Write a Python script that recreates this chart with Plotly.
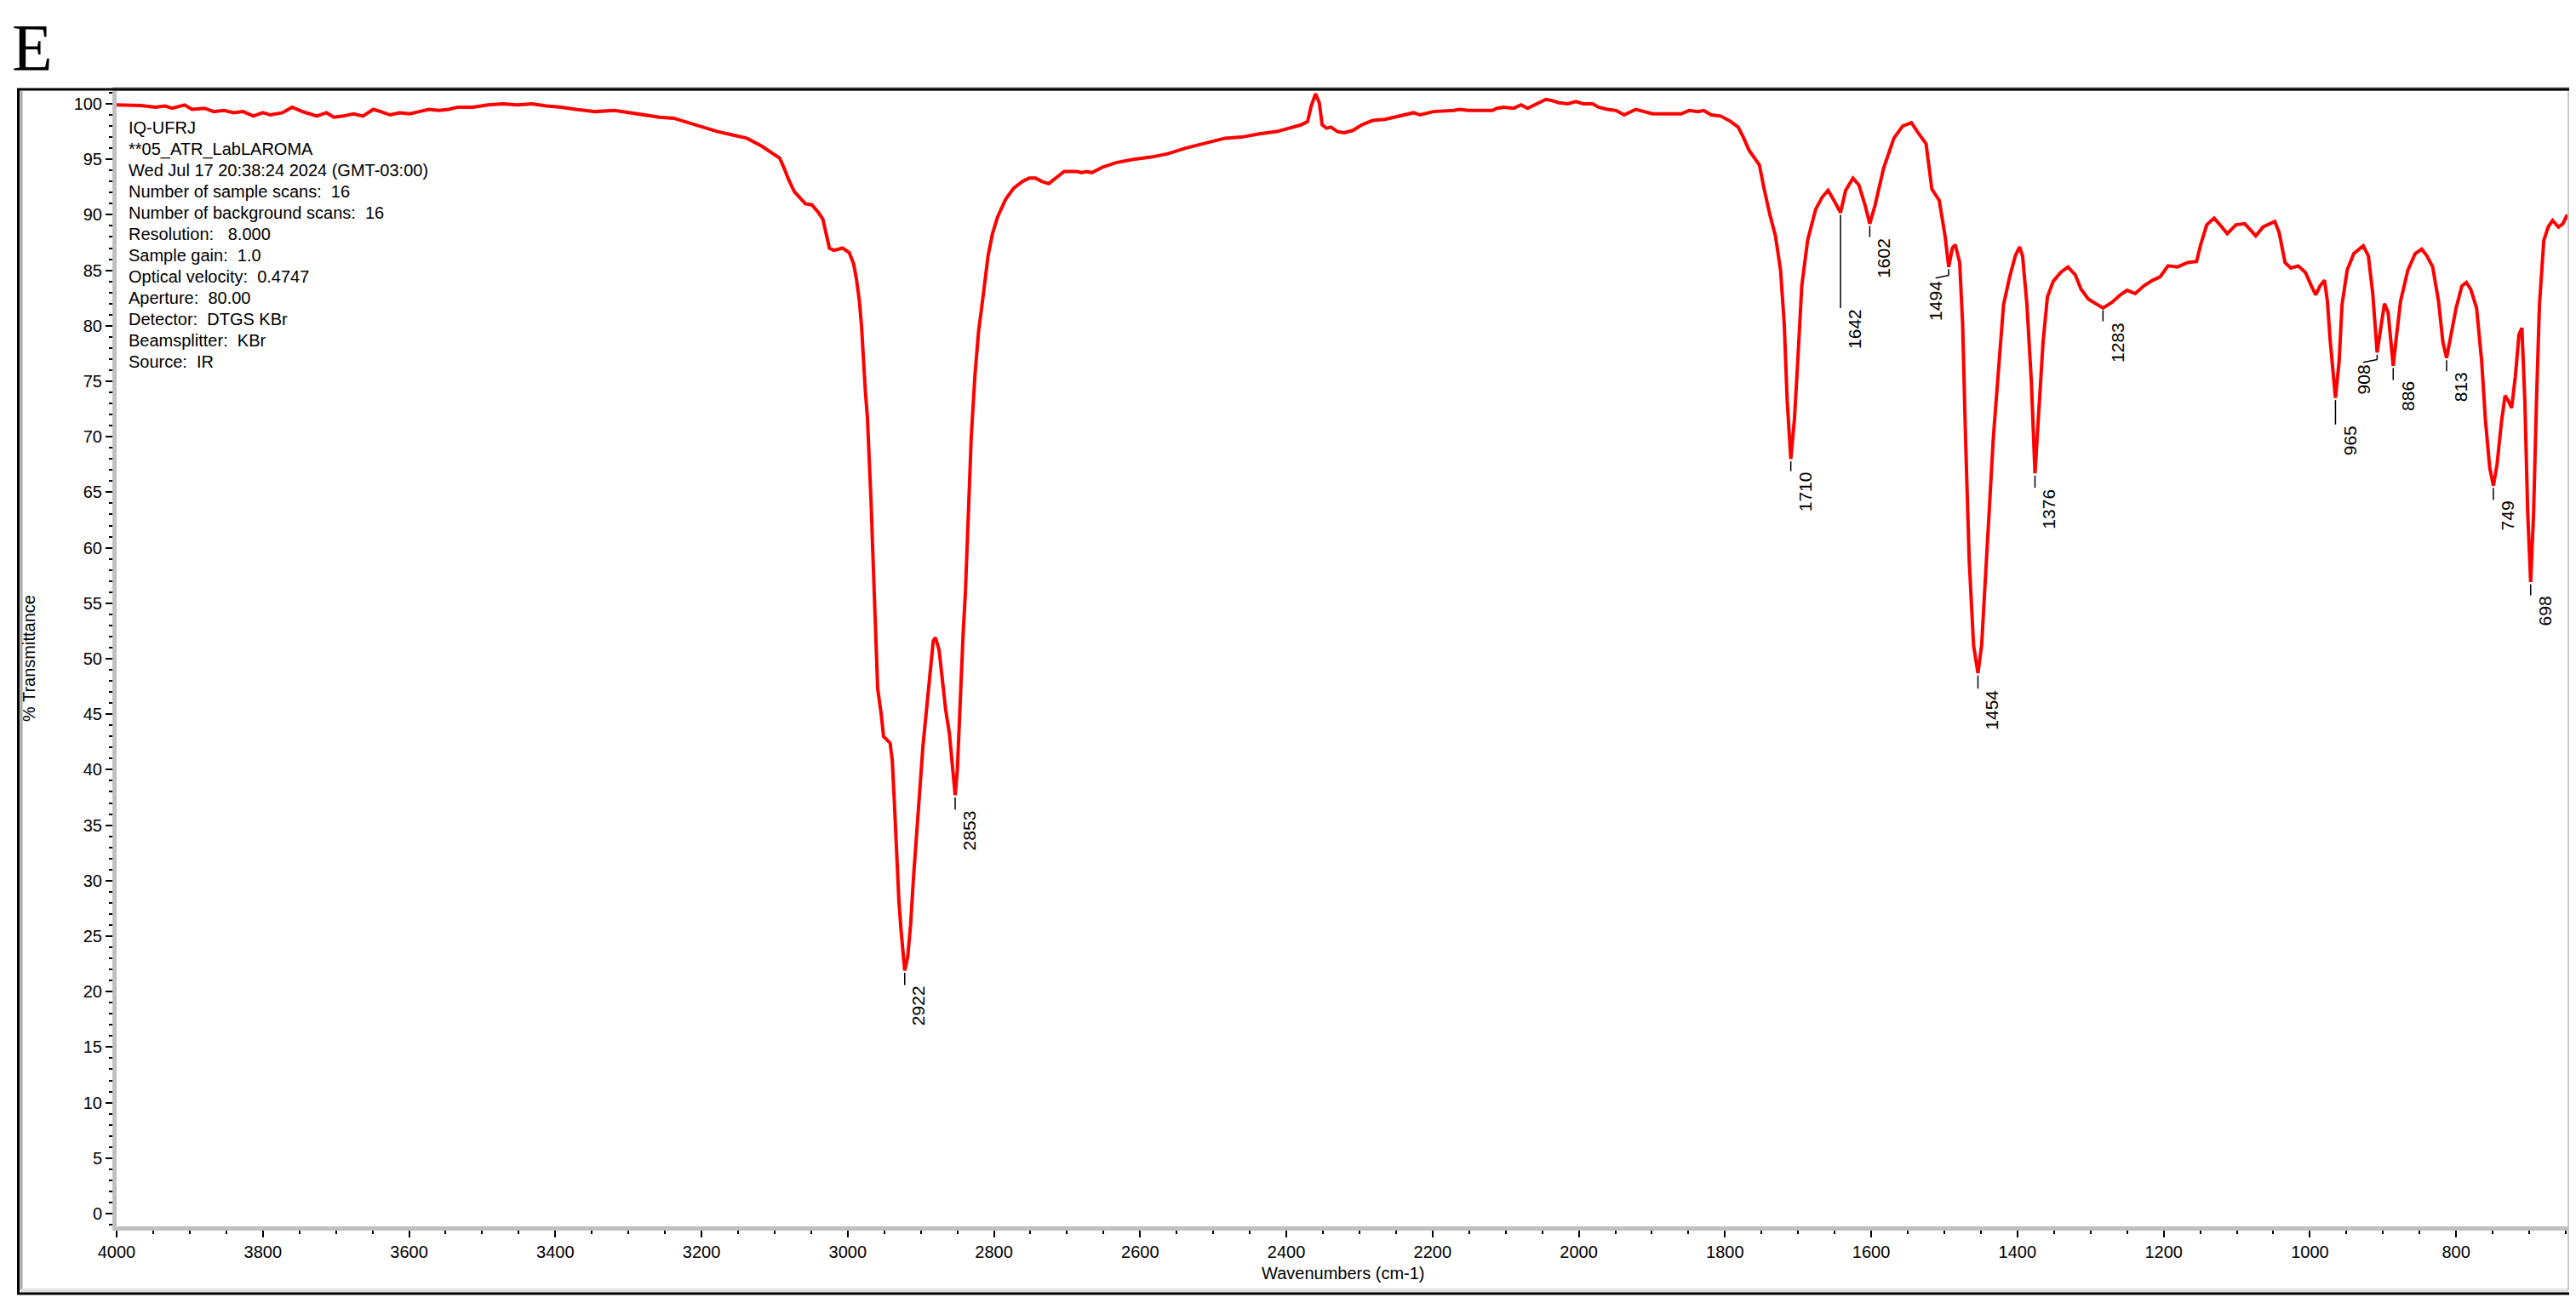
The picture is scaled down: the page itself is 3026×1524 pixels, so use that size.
import plotly.graph_objects as go

# ---------------- data ----------------
wavenumber = [
    4000, 3997, 3967, 3947, 3934, 3924, 3907, 3897, 3880, 3867, 3853, 3840, 3827, 3813, 3800, 3790,
    3773, 3760, 3746, 3736, 3726, 3713, 3703, 3690, 3676, 3663, 3649, 3639, 3626, 3613, 3599, 3586,
    3573, 3559, 3546, 3533, 3513, 3492, 3472, 3452, 3432, 3412, 3392, 3372, 3345, 3319, 3299, 3279,
    3258, 3238, 3218, 3198, 3178, 3158, 3138, 3118, 3101, 3093, 3087, 3081, 3073, 3064, 3058, 3049,
    3040, 3034, 3030, 3025, 3019, 3007, 2998, 2992, 2988, 2984, 2981, 2979, 2976, 2973, 2970, 2968,
    2966, 2964, 2962, 2959, 2954, 2951, 2942, 2939, 2936, 2933, 2930, 2927, 2924, 2922, 2918, 2914,
    2910, 2906, 2902, 2897, 2892, 2887, 2883, 2880, 2875, 2870, 2866, 2861, 2856, 2853, 2850, 2847,
    2845, 2842, 2839, 2835, 2831, 2826, 2821, 2817, 2813, 2808, 2802, 2795, 2784, 2773, 2761, 2752,
    2743, 2734, 2725, 2716, 2704, 2686, 2680, 2674, 2666, 2651, 2633, 2609, 2585, 2562, 2538, 2508,
    2484, 2461, 2437, 2413, 2395, 2380, 2371, 2366, 2360, 2355, 2351, 2345, 2339, 2330, 2321, 2309,
    2297, 2282, 2265, 2247, 2226, 2217, 2199, 2171, 2163, 2151, 2136, 2118, 2112, 2103, 2089, 2079,
    2070, 2060, 2050, 2045, 2037, 2027, 2015, 2004, 1994, 1981, 1973, 1961, 1949, 1938, 1922, 1911,
    1899, 1883, 1860, 1849, 1837, 1829, 1819, 1806, 1792, 1782, 1775, 1767, 1760, 1753, 1747, 1739,
    1731, 1724, 1719, 1715, 1710, 1705, 1700, 1695, 1687, 1676, 1667, 1659, 1651, 1642, 1635, 1625,
    1617, 1609, 1602, 1595, 1583, 1569, 1557, 1545, 1537, 1525, 1517, 1507, 1499, 1494, 1489, 1485,
    1479, 1475, 1471, 1466, 1460, 1454, 1449, 1441, 1433, 1425, 1419, 1411, 1403, 1397, 1393, 1387,
    1381, 1376, 1371, 1365, 1359, 1351, 1341, 1331, 1321, 1313, 1303, 1291, 1283, 1271, 1259, 1250,
    1239, 1227, 1215, 1205, 1194, 1181, 1167, 1155, 1149, 1141, 1131, 1123, 1113, 1101, 1089, 1074,
    1064, 1048, 1042, 1034, 1026, 1016, 1006, 998, 992, 986, 980, 976, 972, 965, 960, 956,
    949, 940, 927, 920, 914, 908, 904, 898, 893, 889, 886, 882, 876, 866, 856, 847,
    840, 832, 824, 818, 813, 808, 800, 792, 786, 780, 772, 765, 760, 754, 749, 744,
    738, 733, 729, 724, 719, 714, 710, 706, 702, 698, 694, 690, 686, 680, 674, 668,
    660, 654, 648,
]
transmittance = [
    99.9, 99.9, 99.85, 99.7, 99.8, 99.6, 99.9, 99.5, 99.6, 99.3, 99.4, 99.2, 99.3, 98.9, 99.2, 99.0,
    99.2, 99.7, 99.3, 99.1, 98.9, 99.2, 98.8, 98.9, 99.1, 98.9, 99.5, 99.3, 99.0, 99.2, 99.1, 99.3,
    99.5, 99.4, 99.5, 99.7, 99.7, 99.9, 100.0, 99.9, 100.0, 99.8, 99.7, 99.5, 99.3, 99.4, 99.2, 99.0,
    98.8, 98.7, 98.3, 97.9, 97.5, 97.2, 96.9, 96.2, 95.5, 95.1, 94.2, 93.2, 92.1, 91.5, 91.0, 90.9,
    90.2, 89.6, 88.3, 87.0, 86.8, 87.0, 86.6, 85.6, 84.2, 82.2, 79.9, 77.3, 74.2, 71.7, 67.9, 64.0,
    60.2, 56.4, 52.4, 47.3, 44.9, 43.0, 42.4, 40.8, 36.8, 32.2, 28.2, 25.5, 23.1, 21.9, 23.1, 26.0,
    30.3, 34.4, 37.6, 42.2, 45.7, 49.4, 51.6, 51.9, 50.8, 47.8, 45.4, 43.3, 40.0, 37.7, 40.0, 43.8,
    47.8, 52.4, 56.0, 63.0, 70.0, 75.5, 79.5, 81.5, 83.7, 86.3, 88.3, 89.8, 91.4, 92.4, 93.0, 93.3,
    93.3, 93.0, 92.8, 93.3, 93.9, 93.9, 93.8, 93.9, 93.8, 94.3, 94.7, 95.0, 95.2, 95.5, 96.0, 96.5,
    96.9, 97.0, 97.3, 97.5, 97.8, 98.1, 98.4, 99.8, 100.9, 100.1, 98.1, 97.8, 97.9, 97.5, 97.4, 97.6,
    98.1, 98.5, 98.6, 98.9, 99.2, 99.0, 99.3, 99.4, 99.5, 99.4, 99.4, 99.4, 99.6, 99.7, 99.6, 99.9,
    99.6, 99.9, 100.2, 100.4, 100.3, 100.1, 100.0, 100.2, 100.0, 100.0, 99.7, 99.5, 99.4, 99.0, 99.5, 99.3,
    99.1, 99.1, 99.1, 99.4, 99.3, 99.4, 99.0, 98.9, 98.4, 97.9, 97.0, 95.8, 95.2, 94.5, 92.5, 90.1,
    88.1, 85.0, 80.2, 73.3, 68.0, 71.6, 77.4, 83.6, 87.7, 90.5, 91.6, 92.2, 91.3, 90.2, 92.2, 93.3,
    92.7, 91.0, 89.2, 90.8, 94.2, 96.9, 98.0, 98.3, 97.5, 96.4, 92.3, 91.3, 88.1, 85.3, 87.0, 87.3,
    85.7, 80.2, 69.9, 58.9, 51.2, 48.7, 51.2, 60.5, 69.9, 76.8, 81.9, 84.3, 86.3, 87.1, 86.3, 81.9,
    75.0, 66.7, 71.6, 78.5, 82.6, 84.0, 84.8, 85.3, 84.6, 83.3, 82.4, 81.9, 81.6, 82.1, 82.8, 83.2,
    82.9, 83.6, 84.1, 84.4, 85.4, 85.3, 85.7, 85.8, 87.4, 89.1, 89.7, 89.1, 88.3, 89.1, 89.2, 88.1,
    88.9, 89.4, 88.4, 85.7, 85.2, 85.4, 84.8, 83.6, 82.8, 83.6, 84.1, 82.2, 78.5, 73.5, 76.8, 81.9,
    85.0, 86.5, 87.2, 86.3, 82.9, 77.6, 79.5, 82.0, 81.2, 78.1, 76.4, 78.8, 82.2, 85.0, 86.5, 86.9,
    86.3, 85.3, 82.2, 78.5, 77.1, 78.8, 81.6, 83.6, 83.9, 83.3, 81.6, 76.8, 71.6, 67.2, 65.6, 67.5,
    71.3, 73.7, 73.3, 72.6, 75.4, 79.2, 79.8, 73.3, 63.1, 56.9, 63.1, 73.3, 81.9, 87.7, 88.9, 89.5,
    88.9, 89.2, 90.0,
]

# peak labels: position, %T at the minimum, %T where the marker line ends
peak_wn = [2922, 2853, 1710, 1642, 1602, 1494, 1454, 1376, 1283, 965, 908, 886, 813, 749, 698]
peak_label = ["2922", "2853", "1710", "1642", "1602", "1494", "1454", "1376", "1283",
              "965", "908", "886", "813", "749", "698"]
peak_min = [21.9, 37.7, 68.0, 90.2, 89.2, 85.3, 48.7, 66.7, 81.6, 73.5, 77.6, 76.4, 77.1, 65.6, 56.9]
peak_end = [20.6, 36.4, 66.9, 81.6, 88.0, 84.3, 47.3, 65.4, 80.4, 71.1, 76.7, 75.1, 75.9, 64.3, 55.7]
# labels whose leader bends sideways to the text position
bent_to = {"1494": 1512, "908": 927}

x_ticks = [4000, 3800, 3600, 3400, 3200, 3000, 2800, 2600, 2400, 2200, 2000, 1800, 1600, 1400, 1200, 1000, 800]
y_ticks = [0, 5, 10, 15, 20, 25, 30, 35, 40, 45, 50, 55, 60, 65, 70, 75, 80, 85, 90, 95, 100]

info_lines = [
    "IQ-UFRJ",
    "**05_ATR_LabLAROMA",
    "Wed Jul 17 20:38:24 2024 (GMT-03:00)",
    "Number of sample scans:  16",
    "Number of background scans:  16",
    "Resolution:   8.000",
    "Sample gain:  1.0",
    "Optical velocity:  0.4747",
    "Aperture:  80.00",
    "Detector:  DTGS KBr",
    "Beamsplitter:  KBr",
    "Source:  IR",
]

# ---------------- layout geometry ----------------
W, H = 3026, 1524
L, R, T, B = 129, 3010, 99, 1433   # plot area in pixels
PW, PH = R - L, B - T
FONT = "Liberation Sans, Arial, sans-serif"


def px(x):
    return (x - L) / PW


def py(y):
    return (B - y) / PH


fig = go.Figure()
fig.add_trace(go.Scatter(
    x=wavenumber, y=transmittance, mode="lines",
    line=dict(color="#FF0000", width=4), hoverinfo="skip", showlegend=False,
))

shapes = []
annotations = []
LABEL_FONT = dict(family=FONT, size=21, color="black")

# peak markers
for wn, lab, tmin, tend in zip(peak_wn, peak_label, peak_min, peak_end):
    if lab in bent_to:
        xt = bent_to[lab]
        mid = tend + 0.25
        shapes.append(dict(type="line", xref="x", yref="y", x0=wn, x1=wn, y0=tmin - 0.2, y1=mid,
                           line=dict(color="black", width=1.5)))
        shapes.append(dict(type="line", xref="x", yref="y", x0=wn, x1=xt, y0=mid, y1=tend,
                           line=dict(color="black", width=1.5)))
        annotations.append(dict(x=xt, y=tend, xref="x", yref="y", text=lab, showarrow=False,
                                textangle=-90, xanchor="center", yanchor="top", yshift=-1,
                                font=LABEL_FONT))
    else:
        shapes.append(dict(type="line", xref="x", yref="y", x0=wn, x1=wn, y0=tmin - 0.2, y1=tend,
                           line=dict(color="black", width=1.5)))
        annotations.append(dict(x=wn, y=tend, xref="x", yref="y", text=lab, showarrow=False,
                                textangle=-90, xanchor="left", yanchor="top", xshift=3, yshift=1,
                                font=LABEL_FONT))

# instrument info block
for i, line in enumerate(info_lines):
    annotations.append(dict(x=px(141), y=py(142 + 25 * i), xref="paper", yref="paper", text=line,
                            showarrow=False, xanchor="left", yanchor="middle",
                            font=dict(family=FONT, size=20, color="black")))

# axis titles
annotations.append(dict(x=0.5, y=py(1488), xref="paper", yref="paper", text="Wavenumbers (cm-1)",
                        showarrow=False, xanchor="center", yanchor="middle",
                        font=dict(family=FONT, size=20, color="black")))
annotations.append(dict(x=px(26), y=py(766), xref="paper", yref="paper", text="% Transmittance",
                        showarrow=False, textangle=-90, xanchor="center", yanchor="middle",
                        font=dict(family=FONT, size=20, color="black")))

# panel letter
annotations.append(dict(x=px(4), y=py(2), xref="paper", yref="paper", text="E",
                        showarrow=False, xanchor="left", yanchor="top",
                        font=dict(family="Liberation Serif, Times New Roman, serif", size=78, color="black")))

# window frame of the screenshot
shapes.append(dict(type="line", xref="paper", yref="paper", x0=px(17), x1=px(17), y0=py(1508), y1=py(99),
                   line=dict(color="#A8A8A8", width=3), layer="above"))
shapes.append(dict(type="line", xref="paper", yref="paper", x0=px(17), x1=px(3009), y0=py(1508), y1=py(1508),
                   line=dict(color="#E0E0E0", width=4), layer="above"))
shapes.append(dict(type="line", xref="paper", yref="paper", x0=px(3009), x1=px(3009), y0=py(1508), y1=py(99),
                   line=dict(color="#C8C8C8", width=2), layer="above"))
shapes.append(dict(type="rect", xref="paper", yref="paper", x0=px(13.5), x1=px(3013), y0=py(1512), y1=py(97),
                   line=dict(color="black", width=3), fillcolor="rgba(0,0,0,0)", layer="above"))

fig.update_layout(
    width=W, height=H,
    margin=dict(l=L, r=W - R, t=T, b=H - B, pad=0),
    paper_bgcolor="white", plot_bgcolor="white",
    shapes=shapes, annotations=annotations,
    showlegend=False,
    font=dict(family=FONT, size=20, color="black"),
)
fig.update_xaxes(
    range=[4000, 645.3], showgrid=False, zeroline=False,
    showline=True, linecolor="#C0C0C0", linewidth=5, mirror=True,
    ticks="outside", ticklen=8, tickwidth=2, tickcolor="black",
    tickmode="array", tickvals=x_ticks, ticktext=[str(v) for v in x_ticks],
    tickfont=dict(family=FONT, size=20, color="black"),
    minor=dict(ticks="outside", dtick=50, tick0=0, ticklen=4, tickwidth=2, tickcolor="black", showgrid=False),
)
fig.update_yaxes(
    range=[-1.15, 101.15], showgrid=False, zeroline=False,
    showline=True, linecolor="#C0C0C0", linewidth=5,
    ticks="outside", ticklen=8, tickwidth=2, tickcolor="black",
    tickmode="array", tickvals=y_ticks, ticktext=[str(v) for v in y_ticks],
    tickfont=dict(family=FONT, size=20, color="black"),
    minor=dict(ticks="outside", dtick=1, tick0=0, ticklen=4, tickwidth=2, tickcolor="black", showgrid=False),
)

fig.write_html("out.html")
